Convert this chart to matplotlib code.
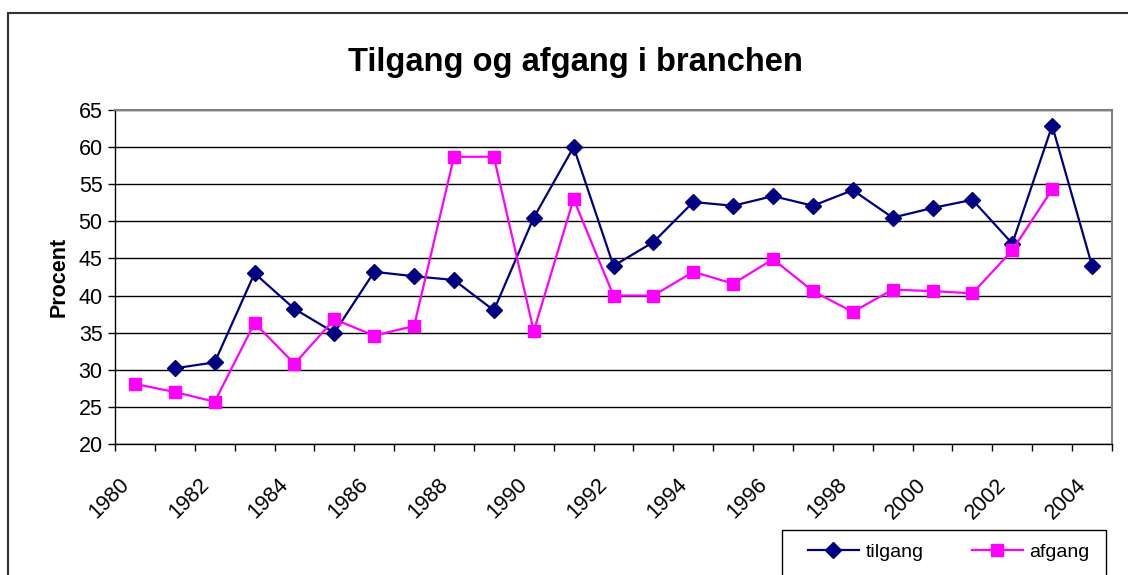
import numpy as np
import matplotlib.pyplot as plt
from matplotlib.patches import Rectangle
from matplotlib.transforms import ScaledTranslation

plt.rcParams['font.family'] = ['Liberation Sans', 'DejaVu Sans']

# data
years = list(range(1980, 2005))
tilgang = [np.nan, 30.2, 31.0, 43.0, 38.2, 35.0, 43.2, 42.6, 42.1, 38.0,
           50.5, 60.0, 44.0, 47.2, 52.6, 52.1, 53.4, 52.1, 54.2, 50.5,
           51.8, 52.9, 47.0, 62.9, 44.0]
afgang = [28.1, 27.0, 25.7, 36.3, 30.8, 36.8, 34.6, 35.9, 58.7, 58.7,
          35.2, 53.0, 40.0, 40.0, 43.2, 41.6, 44.9, 40.6, 37.8, 40.8,
          40.6, 40.3, 46.1, 54.3, np.nan]
yticks = [20, 25, 30, 35, 40, 45, 50, 55, 60, 65]

W, H = 1128, 575
fig = plt.figure(figsize=(W/100, H/100), dpi=100)
ax = fig.add_axes([115/W, 1-444/H, (1112-115)/W, (444-110)/H])

x = np.arange(len(years))
ax.plot(x, tilgang, color='#000080', lw=1.6, marker='D', ms=8.5,
        label='tilgang', zorder=3)
ax.plot(x, afgang, color='#FF00FF', lw=1.6, marker='s', ms=8.5,
        label='afgang', zorder=3)

ax.set_xlim(-0.5, len(years) - 0.5)
ax.set_ylim(20, 65)
ax.set_yticks(yticks)
ax.yaxis.grid(True, color='black', lw=1)
ax.set_axisbelow(True)

# tick marks between categories, labels every other year
ax.set_xticks(np.arange(-0.5, len(years)), minor=True)
ax.set_xticks(x[::2])
ax.set_xticklabels([str(y) for y in years[::2]], rotation=45,
                   ha='right', va='center', rotation_mode='anchor')
ax.tick_params(axis='x', which='major', length=0, pad=27, labelsize=15.5)
ax.tick_params(axis='x', which='minor', length=5, width=1, direction='out')
ax.tick_params(axis='y', length=5, width=1, pad=4, labelsize=15.5)
shift = ScaledTranslation(-9/100, 0, fig.dpi_scale_trans)
for lab in ax.get_xticklabels():
    lab.set_transform(lab.get_transform() + shift)

for s in ['top', 'right']:
    ax.spines[s].set_color('#808080')
    ax.spines[s].set_linewidth(1.5)
for s in ['left', 'bottom']:
    ax.spines[s].set_color('black')
    ax.spines[s].set_linewidth(1)

ax.set_ylabel('Procent', fontsize=15.5, fontweight='bold', labelpad=6)
fig.text(575/W, 1-63/H, 'Tilgang og afgang i branchen', fontsize=23.5,
         fontweight='bold', ha='center', va='center')

# legend: frame drawn separately, it runs off the bottom edge
fig.add_artist(Rectangle((782/W, -0.1), (1106-782)/W, 0.1 + 1 - 530/H,
                         transform=fig.transFigure, fill=False,
                         edgecolor='black', lw=1))
leg = fig.legend(loc='center left', bbox_to_anchor=(808/W, 1-552/H),
                 ncol=2, frameon=False, fontsize=14,
                 handlelength=2.6, columnspacing=2.5, borderpad=0,
                 borderaxespad=0, handletextpad=0.35)

# outer chart border (runs off the right and bottom edges)
fig.add_artist(Rectangle((8/W, -0.1), 1.2, 1 - 13/H + 0.1,
                         transform=fig.transFigure, fill=False,
                         edgecolor='#333333', lw=1.5))

fig.savefig('out.png', dpi=100)
